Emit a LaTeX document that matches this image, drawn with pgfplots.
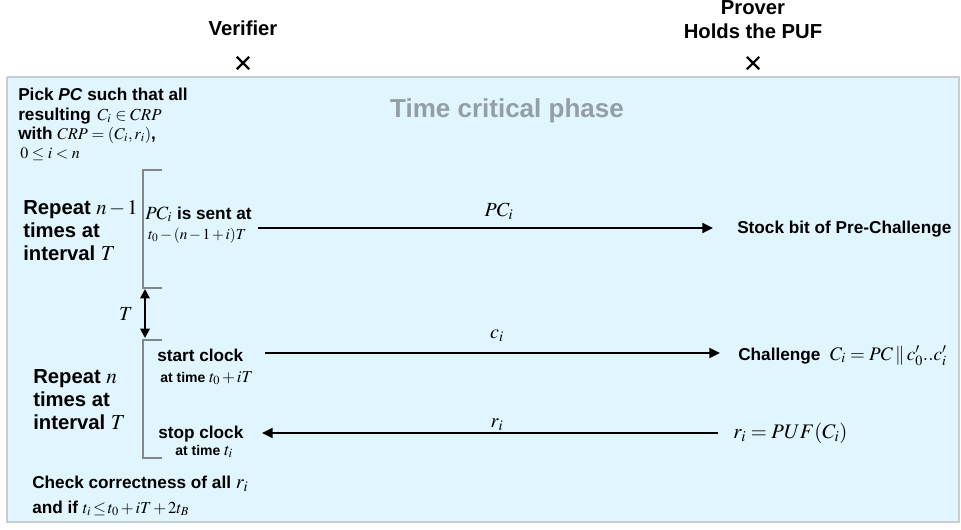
\documentclass[border=0pt]{standalone}
\usepackage{mathptmx}
\usepackage[no-math]{fontspec}
\setmainfont{Liberation Sans}
\usepackage{pgfplots}
\pgfplotsset{compat=1.18}
\usetikzlibrary{arrows.meta}
\definecolor{boxblue}{RGB}{224,245,253}
\definecolor{boxedge}{RGB}{200,205,208}
\definecolor{phasegray}{RGB}{148,158,165}
\definecolor{brgray}{RGB}{130,134,138}
\newcommand\bt{\fontsize{12.9}{14}\selectfont\bfseries}
\newcommand\bs{\fontsize{10.5}{12}\selectfont\bfseries}
\newcommand\bl{\fontsize{15.2}{17}\selectfont\bfseries}
\newcommand\mth[2]{{\fontsize{#1}{#1}\selectfont$#2$}}
\begin{document}
\begin{tikzpicture}
\begin{axis}[scale only axis, width=720.75pt, height=396.75pt,
  xmin=0, xmax=961, ymin=0, ymax=529, y dir=reverse,
  hide axis, clip=false]
\coordinate (BBa) at (axis cs:0,0);
\coordinate (BBb) at (axis cs:961,529);
% background box
\addplot[fill=boxblue, draw=boxedge, line width=1pt] coordinates {(7,77) (959,77) (959,522) (7,522) (7,77)};
% lifeline marks
\addplot[only marks, mark=x, mark size=6.5pt, line width=1.6pt, black] coordinates {(243,63) (753,63)};
% brackets
\addplot[brgray, line width=1.5pt] coordinates {(162,170) (143,170) (143,288) (162,288)};
\addplot[brgray, line width=1.5pt] coordinates {(162,340) (143,340) (143,458) (162,458)};
% T double arrow
\addplot[black, line width=1.5pt, {Triangle[length=7pt,width=7pt]}-{Triangle[length=7pt,width=7pt]}] coordinates {(145,289) (145,338)};
% messages
\addplot[black, line width=1.5pt, -{Triangle[length=8pt,width=7.5pt]}] coordinates {(258,228) (713,228)};
\addplot[black, line width=1.5pt, -{Triangle[length=8pt,width=7.5pt]}] coordinates {(265,353) (720,353)};
\addplot[black, line width=1.5pt, -{Triangle[length=8pt,width=7.5pt]}] coordinates {(718,433) (262,433)};
% headers
\node[anchor=base, font=\bl] at (axis cs:243,35) {Verifier};
\node[anchor=base, font=\bl] at (axis cs:753,14) {Prover};
\node[anchor=base, font=\bl] at (axis cs:753,38) {Holds the PUF};
\node[anchor=base, font=\fontsize{19.5}{22}\selectfont\bfseries, text=phasegray] at (axis cs:507,117) {Time critical phase};
% top-left text
\node[anchor=base west, font=\bt, inner sep=0pt] at (axis cs:18,100) {Pick \textit{PC} such that all};
\node[anchor=base west, font=\bt, inner sep=0pt] at (axis cs:18,120) {resulting \mth{12.6}{\,C_i\in CRP}};
\node[anchor=base west, font=\bt, inner sep=0pt] at (axis cs:18,139) {with \mth{12.3}{CRP=(C_i,r_i)},};
\node[anchor=base west, font=\bt, inner sep=0pt] at (axis cs:20,158) {\mth{12}{0\le i<n}};
% repeat n-1
\node[anchor=base west, font=\bl, inner sep=0pt] at (axis cs:23,214) {Repeat \mth{15.5}{n\,{-}\,1}};
\node[anchor=base west, font=\bl, inner sep=0pt] at (axis cs:23,237) {times at};
\node[anchor=base west, font=\bl, inner sep=0pt] at (axis cs:23,260) {interval \mth{16}{T}};
\node[anchor=base west, font=\bt, inner sep=0pt] at (axis cs:145,219) {\mth{14}{PC_i}\ is sent at};
\node[anchor=base west, inner sep=0pt] at (axis cs:148,239) {\mth{11.5}{t_0\,{-}\,(n\,{-}\,1\,{+}\,i)T}};
\node[anchor=base, font=\fontsize{15}{17}\selectfont, inner sep=0pt] at (axis cs:499,216) {$PC_i$};
\node[anchor=base west, font=\bt, inner sep=0pt] at (axis cs:737,233) {Stock bit of Pre-Challenge};
% T
\node[anchor=base, font=\fontsize{15}{17}\selectfont, inner sep=0pt] at (axis cs:126,320) {$T$};
% repeat n
\node[anchor=base west, font=\bl, inner sep=0pt] at (axis cs:33,383) {Repeat \mth{16}{n}};
\node[anchor=base west, font=\bl, inner sep=0pt] at (axis cs:33,406) {times at};
\node[anchor=base west, font=\bl, inner sep=0pt] at (axis cs:33,429) {interval \mth{16}{T}};
\node[anchor=base west, font=\bt, inner sep=0pt] at (axis cs:157,361) {start clock};
\node[anchor=base west, font=\bs, inner sep=0pt] at (axis cs:160,382) {at time \mth{12.5}{t_0\,{+}\,iT}};
\node[anchor=base west, font=\bt, inner sep=0pt] at (axis cs:158,438) {stop clock};
\node[anchor=base west, font=\bs, inner sep=0pt] at (axis cs:175,455) {at time \mth{13}{t_i}};
\node[anchor=base, font=\fontsize{15}{17}\selectfont, inner sep=0pt] at (axis cs:497,338) {$c_i$};
\node[anchor=base, font=\fontsize{15}{17}\selectfont, inner sep=0pt] at (axis cs:497,427) {$r_i$};
\node[anchor=base west, font=\bt, inner sep=0pt] at (axis cs:738,360) {Challenge\ \ \mth{14.3}{C_i=PC\,\|\,c_0'..c_i'}};
\node[anchor=base west, inner sep=0pt] at (axis cs:733,438) {\mth{15.5}{r_i=PUF(C_i)}};
% bottom
\node[anchor=base west, font=\bt, inner sep=0pt] at (axis cs:32,488) {Check correctness of all \mth{15}{r_i}};
\node[anchor=base west, font=\bt, inner sep=0pt] at (axis cs:32,513) {and if \mth{12.5}{t_i\,{\le}\,t_0\,{+}\,iT\,{+}\,2t_B}};
\end{axis}
\pgfresetboundingbox
\path[use as bounding box] (BBa) rectangle (BBb);
\end{tikzpicture}
\end{document}
